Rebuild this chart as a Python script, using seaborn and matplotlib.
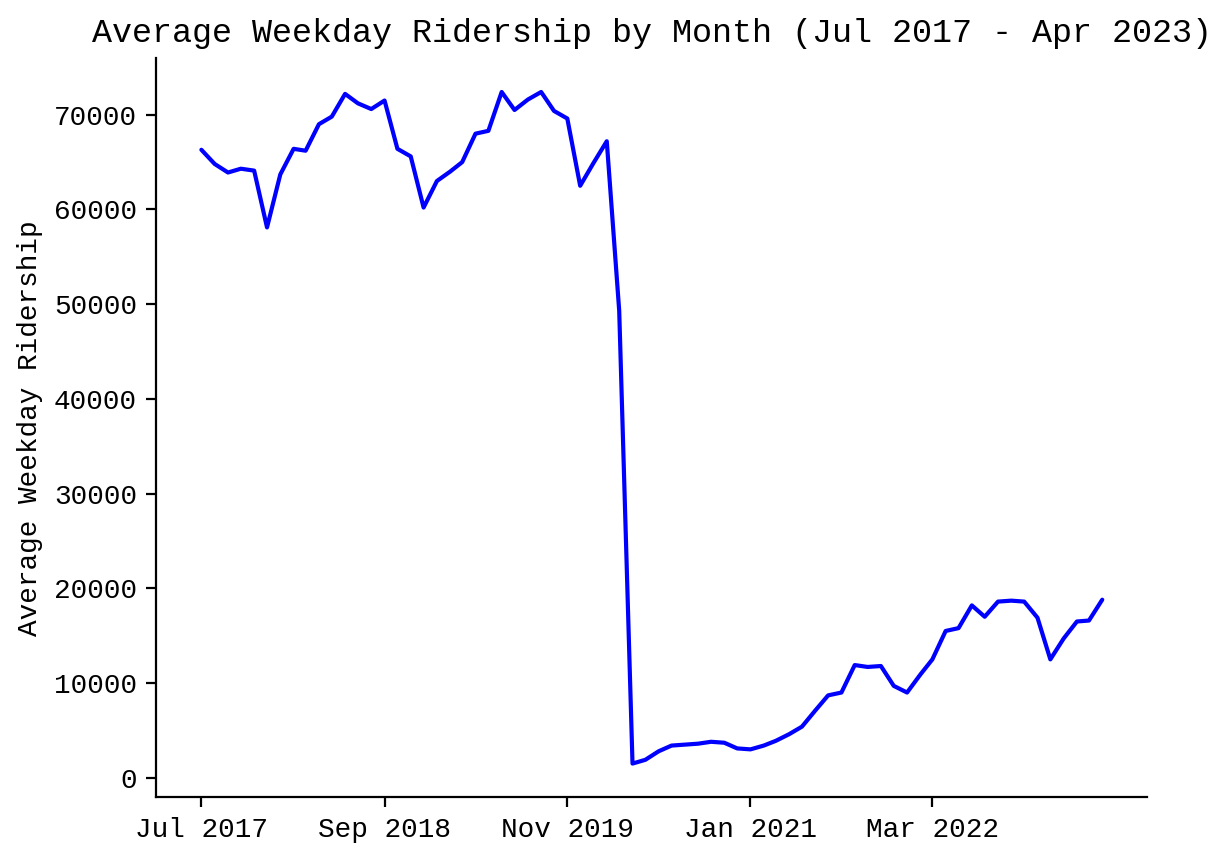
import matplotlib
matplotlib.use("Agg")
import matplotlib.pyplot as plt
import matplotlib.dates as mdates
import pandas as pd
import seaborn as sns

sns.set_style("ticks")
plt.rcParams['font.family'] = ['Liberation Mono', 'DejaVu Sans Mono']
plt.rcParams['text.color'] = 'black'
plt.rcParams['axes.labelcolor'] = 'black'
plt.rcParams['xtick.color'] = 'black'
plt.rcParams['ytick.color'] = 'black'
plt.rcParams['axes.edgecolor'] = 'black'

months = pd.date_range("2017-07-01", "2023-04-01", freq="MS")
ridership = [66300, 64800, 63900, 64300, 64100, 58100, 63700, 66400, 66200, 69000,
             69800, 72200, 71200, 70600, 71500, 66400, 65600, 60200, 63000, 64000,
             65000, 68000, 68300, 72400, 70500, 71600, 72400, 70400, 69600, 62500,
             64900, 67200, 49300, 1500, 1900, 2800, 3400, 3500, 3600, 3800,
             3700, 3100, 3000, 3400, 3900, 4600, 5400, 7100, 8700, 9000,
             11900, 11700, 11800, 9700, 9000, 10900, 12500, 15500, 15800, 18200,
             17000, 18600, 18700, 18600, 16900, 12500, 14700, 16500, 16600, 18800]
tick_idx = [0, 14, 28, 42, 56]

df = pd.DataFrame({"month": months, "ridership": ridership})

fig, ax = plt.subplots(figsize=(6.155, 4.295), dpi=200)
fig.subplots_adjust(left=0.127, right=0.932, bottom=0.072, top=0.932)
sns.lineplot(data=df, x="month", y="ridership", color="blue", linewidth=1.5, ax=ax)
ax.set_xticks([months[i] for i in tick_idx])
ax.xaxis.set_major_formatter(mdates.DateFormatter("%b %Y"))
ax.set_xlabel("")
ax.set_ylabel("Average Weekday Ridership")
ax.set_title("Average Weekday Ridership by Month (Jul 2017 - Apr 2023)")
sns.despine(ax=ax)
fig.savefig("out.png")
